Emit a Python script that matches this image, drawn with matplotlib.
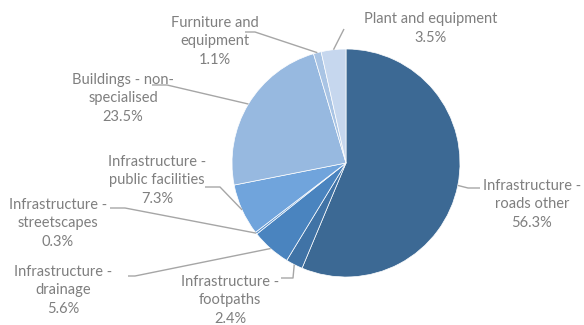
import numpy as np
import matplotlib.pyplot as plt

# Asset categories and their share of the total (%)
labels = ["Infrastructure -\nroads other", "Infrastructure -\nfootpaths",
          "Infrastructure -\ndrainage", "Infrastructure -\nstreetscapes",
          "Infrastructure -\npublic facilities", "Buildings - non-\nspecialised",
          "Furniture and\nequipment", "Plant and equipment"]
shares = [56.3, 2.4, 5.6, 0.3, 7.3, 23.5, 1.1, 3.5]
colors = ["#3c6994", "#4073a6", "#4a84bf", "#5a93cf", "#70a4dc",
          "#97b9e0", "#a9c4e4", "#c6d7ee"]

# label centre (x, y of first line) and leader elbow / end, in pixel units
label_pos = [(532, 185), (230, 281), (63, 271), (58, 204),
             (157, 161), (123, 79), (215, 22), (431, 19)]
leaders = [[(468, 188), (480, 188)], [(293, 278), (281, 278)],
           [(135, 276), (128, 276)], [(125, 208), (110, 208)],
           [(220, 187), (205, 187)], [(167, 85), (152, 85)],
           [(255, 32), (245, 32)], [(344, 29)]]

cx, cy, r = 346, 163, 114
line_h = 19.3

fig = plt.figure(figsize=(5.84, 3.25), dpi=100)
ax = fig.add_axes([0, 0, 1, 1])

# y axis is flipped, so counterclock=True draws clockwise on screen
wedges, _ = ax.pie(shares, colors=colors, startangle=-90, counterclock=True,
                   center=(cx, cy), radius=r, frame=True,
                   wedgeprops=dict(edgecolor='white', linewidth=0.5))
ax.set_xlim(0, 584)
ax.set_ylim(325, 0)
ax.set_aspect('equal')
ax.axis('off')

total = sum(shares)
cum = 0
for lab, val, pos, path in zip(labels, shares, label_pos, leaders):
    mid = (cum + val / 2) / total * 360
    cum += val
    ang = np.deg2rad(mid)
    ax_x = cx + r * np.sin(ang)
    ax_y = cy - r * np.cos(ang)
    xs = [ax_x] + [p[0] for p in path]
    ys = [ax_y] + [p[1] for p in path]
    ax.plot(xs, ys, color='#a6a6a6', linewidth=1.0, solid_capstyle='butt')
    text = f"{lab}\n{val:.1f}%"
    n = text.count("\n")
    ax.text(pos[0], pos[1] + n * line_h / 2, text, ha='center', va='center',
            color='#7f7f7f', fontsize=10.5, family='Lato', linespacing=1.4,
            multialignment='center')

fig.savefig("out.png", dpi=100)
